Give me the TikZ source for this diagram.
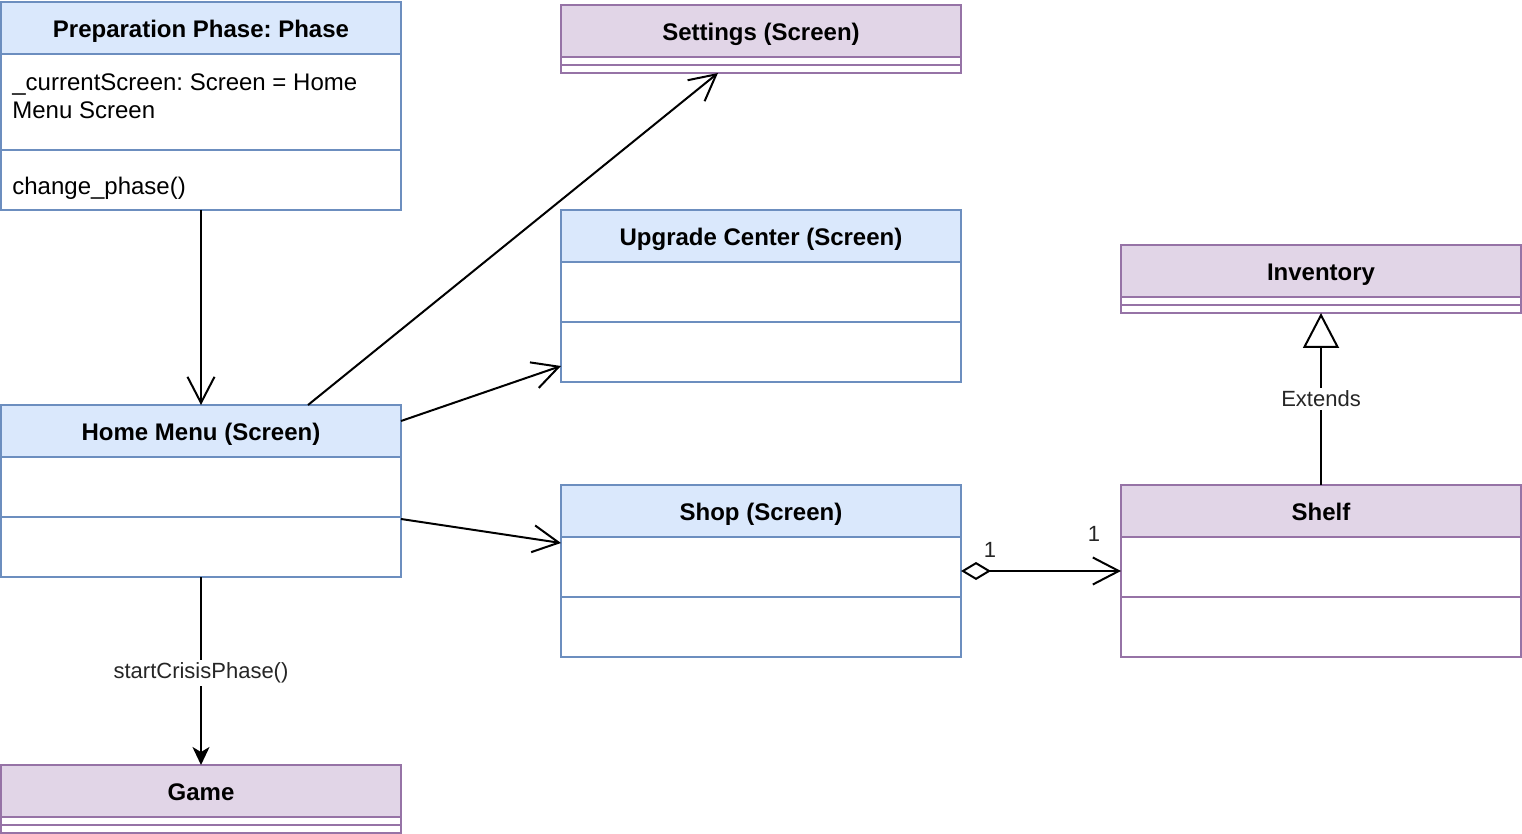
\documentclass[tikz,border=0pt]{standalone}
\usepackage{fontspec}
\setmainfont{Liberation Sans}
\usetikzlibrary{arrows.meta,positioning,calc}
\definecolor{bluefill}{HTML}{DAE8FC}
\definecolor{blueline}{HTML}{6C8EBF}
\definecolor{purplefill}{HTML}{E1D5E7}
\definecolor{purpleline}{HTML}{9673A6}
\frenchspacing
\newcommand\classfont{\fontsize{12}{14}\selectfont}
\newcommand\edgefont{\fontsize{11}{13}\selectfont}
\tikzset{
  head/.style       = {draw, line width=1pt, outer sep=0pt, inner sep=0pt,
                       minimum width=200pt, minimum height=26pt,
                       text height=9.6pt, text depth=0pt, font=\classfont\bfseries},
  bluehead/.style   = {head, draw=blueline, fill=bluefill},
  purplehead/.style = {head, draw=purpleline, fill=purplefill},
  sec/.style        = {draw, line width=1pt, outer sep=0pt, inner sep=0pt,
                       minimum width=200pt, minimum height=30pt, fill=white},
  bluesec/.style    = {sec, draw=blueline},
  purplesec/.style  = {sec, draw=purpleline},
  thinsec/.style    = {sec, draw=purpleline, minimum height=4pt},
  member/.style     = {inner sep=0pt, align=left, font=\classfont},
  lbl/.style        = {fill=white, inner sep=1.5pt, font=\edgefont, text=black!85},
  mult/.style       = {inner sep=0pt, font=\edgefont, text=black!85},
  openarrow/.style  = {line width=1pt, -{Straight Barb[length=13pt,width=13.5pt]}},
  callarrow/.style  = {line width=1pt, -{Stealth[length=9pt,width=8.5pt,inset=2.5pt]}},
  aggr/.style       = {line width=1pt,
                       {Diamond[open,length=15pt,width=9pt]}-{Straight Barb[length=13pt,width=13.5pt]}},
  extends/.style    = {line width=1pt, -{Triangle[open,length=17.5pt,width=18pt]}}
}
\begin{document}
\begin{tikzpicture}[x=0.5pt, y=-0.5pt]
 \useasboundingbox (0,0) rectangle (1522,834);

 \node[bluehead] (prepH) at (201,28) {Preparation Phase: Phase};
 \node[bluesec, minimum height=48pt, below=0pt of prepH] (prepA) {};
 \node[bluesec, below=0pt of prepA] (prepM) {};
 \node[member, anchor=north west] (prepAttr) at ($(prepA.north west)+(11,19)$)
      {\_currentScreen: Screen = Home\\Menu Screen};
 \node[member, anchor=base west] (prepOp) at ($(prepM.west)+(11,15)$) {change\_phase()};

 \node[purplehead] (setH) at (761,31) {Settings (Screen)};
 \node[thinsec, below=0pt of setH] (setA) {};
 \node[thinsec, below=0pt of setA] (setB) {};

 \node[bluehead] (upH) at (761,236) {Upgrade Center (Screen)};
 \node[bluesec, below=0pt of upH] (upA) {};
 \node[bluesec, below=0pt of upA] (upB) {};

 \node[purplehead] (invH) at (1321,271) {Inventory};
 \node[thinsec, below=0pt of invH] (invA) {};
 \node[thinsec, below=0pt of invA] (invB) {};

 \node[bluehead] (homeH) at (201,431) {Home Menu (Screen)};
 \node[bluesec, below=0pt of homeH] (homeA) {};
 \node[bluesec, below=0pt of homeA] (homeM) {};

 \node[bluehead] (shopH) at (761,511) {Shop (Screen)};
 \node[bluesec, below=0pt of shopH] (shopA) {};
 \node[bluesec, below=0pt of shopA] (shopM) {};

 \node[purplehead] (shelfH) at (1321,511) {Shelf};
 \node[purplesec, below=0pt of shelfH] (shelfA) {};
 \node[purplesec, below=0pt of shelfA] (shelfM) {};

 \node[purplehead] (gameH) at (201,791) {Game};
 \node[thinsec, below=0pt of gameH] (gameA) {};
 \node[thinsec, below=0pt of gameA] (gameB) {};

 \draw[openarrow] (prepM) -- (homeH);
 \draw[openarrow] ($(homeH.north)+(107,0)$) -- ($(setB.south)+(-43,0)$);
 \draw[openarrow] ($(homeH.east)+(0,-10)$) -- ($(upB.west)+(0,14)$);
 \draw[openarrow] ($(homeA.south east)+(0,2)$) -- ($(shopA.north west)+(0,6)$);
 \draw[callarrow] (homeM) -- node[lbl, pos=0.51] (callLbl) {startCrisisPhase()} (gameH);
 \draw[aggr] ($(shopA.east)+(0,4)$) -- ($(shelfA.west)+(0,4)$);
 \node[mult] (multShop) at ($(shopA.east)+(29,-17)$) {1};
 \node[mult] (multShelf) at ($(shelfA.west)+(-27,-33)$) {1};
 \draw[extends] (shelfH) -- node[lbl] (extLbl) {Extends} (invB);
\end{tikzpicture}
\end{document}
